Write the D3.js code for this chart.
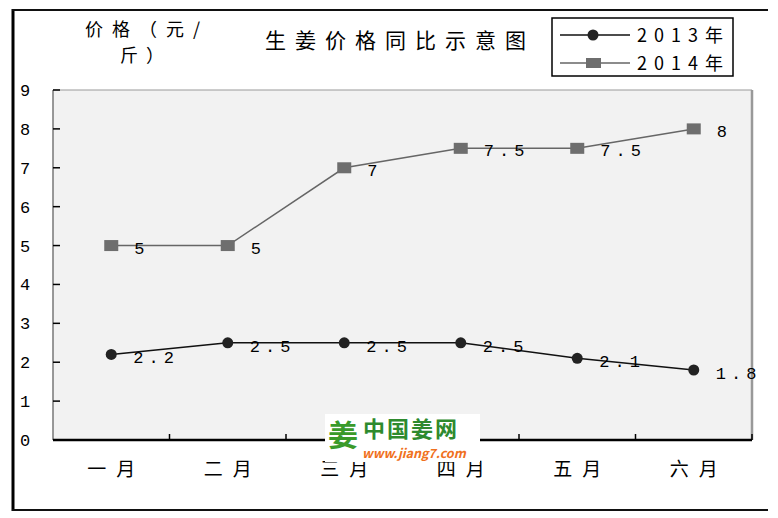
<!DOCTYPE html>
<html>
<head>
<meta charset="utf-8">
<script src="https://cdn.jsdelivr.net/npm/d3@7"></script>
<style>
  body { margin: 0; background: #fff; }
  text { font-family: "Noto Sans CJK SC", "DejaVu Sans", sans-serif; }
  .num { font-family: "Liberation Mono", "DejaVu Sans Mono", monospace; }
</style>
</head>
<body>
<div id="chart"></div>
<script>
// data
var months = ["一月", "二月", "三月", "四月", "五月", "六月"];
var price2013 = [2.2, 2.5, 2.5, 2.5, 2.1, 1.8];
var price2014 = [5, 5, 7, 7.5, 7.5, 8];
var yTicks = [0, 1, 2, 3, 4, 5, 6, 7, 8, 9];

var W = 778, H = 518;
var plot = {left: 53, right: 752, top: 90, bottom: 440};

var svg = d3.select("#chart").append("svg")
    .attr("width", W)
    .attr("height", H);

// outer frame (left, top, bottom lines)
svg.append("line").attr("x1", 13).attr("x2", 13).attr("y1", 9).attr("y2", 511)
    .attr("stroke", "#000").attr("stroke-width", 3);
svg.append("line").attr("x1", 12).attr("x2", 768).attr("y1", 10).attr("y2", 10)
    .attr("stroke", "#111").attr("stroke-width", 2);
svg.append("line").attr("x1", 12).attr("x2", 768).attr("y1", 510).attr("y2", 510)
    .attr("stroke", "#111").attr("stroke-width", 2);

var x = d3.scaleBand().domain(months).range([plot.left, plot.right]);
var y = d3.scaleLinear().domain([0, 9]).range([plot.bottom, plot.top]);

// plot background
svg.append("rect")
    .attr("x", plot.left).attr("y", plot.top)
    .attr("width", plot.right - plot.left).attr("height", plot.bottom - plot.top)
    .attr("fill", "#f2f2f2");
svg.append("line").attr("x1", plot.left).attr("x2", plot.right).attr("y1", plot.top).attr("y2", plot.top)
    .attr("stroke", "#999").attr("stroke-width", 1);
svg.append("line").attr("x1", plot.right).attr("x2", plot.right).attr("y1", plot.top).attr("y2", plot.bottom)
    .attr("stroke", "#999").attr("stroke-width", 2.5);
svg.append("line").attr("x1", plot.left).attr("x2", plot.left).attr("y1", plot.top).attr("y2", plot.bottom)
    .attr("stroke", "#777").attr("stroke-width", 1.5);

// y ticks (inside) and labels (far left)
svg.selectAll(".ytick").data(yTicks).enter().append("line")
    .attr("x1", plot.left).attr("x2", plot.left + 7)
    .attr("y1", function(d){ return y(d); }).attr("y2", function(d){ return y(d); })
    .attr("stroke", "#000").attr("stroke-width", 1.5);
svg.selectAll(".ylab").data(yTicks).enter().append("text")
    .attr("class", "num")
    .attr("x", 25).attr("y", function(d){ return y(d); })
    .attr("dy", "0.35em")
    .attr("text-anchor", "middle")
    .attr("font-size", 17)
    .text(function(d){ return d; });

// x axis
svg.append("line").attr("x1", plot.left).attr("x2", plot.right)
    .attr("y1", plot.bottom).attr("y2", plot.bottom)
    .attr("stroke", "#000").attr("stroke-width", 2.5);
svg.selectAll(".xtick").data(months.slice(1)).enter().append("line")
    .attr("x1", function(d){ return x(d); }).attr("x2", function(d){ return x(d); })
    .attr("y1", plot.bottom).attr("y2", plot.bottom - 6)
    .attr("stroke", "#000").attr("stroke-width", 1.5);
svg.append("line").attr("x1", plot.right).attr("x2", plot.right)
    .attr("y1", plot.bottom).attr("y2", plot.bottom - 6)
    .attr("stroke", "#000").attr("stroke-width", 1.5);
svg.selectAll(".xlab").data(months).enter().append("text")
    .attr("x", function(d){ return x(d) + x.bandwidth() / 2 + 5; })
    .attr("y", 476)
    .attr("text-anchor", "middle")
    .attr("font-size", 19)
    .attr("letter-spacing", 10)
    .text(function(d){ return d; });

var cx = function(d, i){ return x(months[i]) + x.bandwidth() / 2; };
var line = d3.line().x(function(d, i){ return cx(d, i); }).y(function(d){ return y(d); });

// 2014 series
svg.append("path").datum(price2014)
    .attr("d", line).attr("fill", "none")
    .attr("stroke", "#666").attr("stroke-width", 1.5);
svg.selectAll(".m14").data(price2014).enter().append("rect")
    .attr("x", function(d, i){ return cx(d, i) - 7; })
    .attr("y", function(d){ return y(d) - 5.5; })
    .attr("width", 14).attr("height", 11)
    .attr("fill", "#6e6e6e");
svg.selectAll(".l14").data(price2014).enter().append("text")
    .attr("class", "num")
    .attr("x", function(d, i){ return cx(d, i) + 23; })
    .attr("y", function(d){ return y(d) + 8; })
    .attr("font-size", 17)
    .attr("letter-spacing", 5)
    .text(function(d){ return d; });

// 2013 series
svg.append("path").datum(price2013)
    .attr("d", line).attr("fill", "none")
    .attr("stroke", "#111").attr("stroke-width", 1.5);
svg.selectAll(".m13").data(price2013).enter().append("circle")
    .attr("cx", cx)
    .attr("cy", function(d){ return y(d); })
    .attr("r", 5.5)
    .attr("fill", "#222");
svg.selectAll(".l13").data(price2013).enter().append("text")
    .attr("class", "num")
    .attr("x", function(d, i){ return cx(d, i) + 22; })
    .attr("y", function(d){ return y(d) + 9; })
    .attr("font-size", 17)
    .attr("letter-spacing", 5)
    .text(function(d){ return d; });

// titles
svg.append("text").attr("x", 265).attr("y", 48)
    .attr("font-size", 21).attr("letter-spacing", 9)
    .text("生姜价格同比示意图");
svg.append("text").attr("x", 85).attr("y", 36)
    .attr("font-size", 18).attr("letter-spacing", 9)
    .text("价格（元/");
svg.append("text").attr("x", 120).attr("y", 62)
    .attr("font-size", 18).attr("letter-spacing", 8)
    .text("斤）");

// legend
var legend = svg.append("g");
legend.append("rect").attr("x", 552).attr("y", 18).attr("width", 181).attr("height", 58)
    .attr("fill", "#fff").attr("stroke", "#000").attr("stroke-width", 1.5);
var legendItems = [
  {name: "2013年", color: "#111", shape: "circle", y: 35},
  {name: "2014年", color: "#666", shape: "rect", y: 63}
];
legendItems.forEach(function(d){
  legend.append("line").attr("x1", 560).attr("x2", 630).attr("y1", d.y).attr("y2", d.y)
      .attr("stroke", d.color).attr("stroke-width", 1.5);
  if (d.shape === "circle") {
    legend.append("circle").attr("cx", 593).attr("cy", d.y).attr("r", 5.5).attr("fill", "#222");
  } else {
    legend.append("rect").attr("x", 586).attr("y", d.y - 5).attr("width", 15).attr("height", 10)
        .attr("fill", "#6e6e6e");
  }
  legend.append("text").attr("x", 637).attr("y", d.y + 7)
      .attr("font-size", 18).attr("letter-spacing", 7)
      .text(d.name);
});

// watermark
var wm = svg.append("g");
wm.append("rect").attr("x", 325).attr("y", 414).attr("width", 155).attr("height", 48).attr("fill", "#fff");
wm.append("text").attr("x", 328).attr("y", 446)
    .attr("font-size", 30).attr("font-weight", "bold").attr("fill", "#3a9a2a")
    .text("姜");
wm.append("text").attr("x", 363).attr("y", 437)
    .attr("font-size", 22).attr("font-weight", "bold").attr("fill", "#2e8a2e")
    .attr("letter-spacing", 2)
    .text("中国姜网");
wm.append("text").attr("x", 362).attr("y", 458)
    .attr("font-family", "Liberation Sans, Arial, sans-serif")
    .attr("font-size", 12.5).attr("font-weight", "bold").attr("font-style", "italic")
    .attr("fill", "#f07020")
    .text("www.jiang7.com");
</script>
</body>
</html>
